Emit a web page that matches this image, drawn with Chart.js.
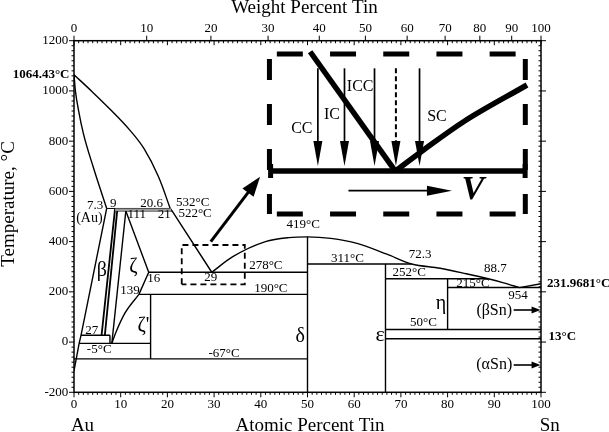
<!DOCTYPE html>
<html>
<head>
<meta charset="utf-8">
<title>Diagrama de fases Au-Sn</title>
<script src="https://cdn.jsdelivr.net/npm/chart.js@4.4.1/dist/chart.umd.min.js"></script>
<style>
    html, body { margin: 0; padding: 0; background: #fff; }
</style>
</head>
<body>
<canvas id="graficaAuSn" width="609" height="432"></canvas>
<script>
// Ejes
const ticksAtomico = [0, 10, 20, 30, 40, 50, 60, 70, 80, 90, 100];
const ticksPeso = [0, 10, 20, 30, 40, 50, 60, 70, 80, 90, 100];
const ticksTemperatura = [-200, 0, 200, 400, 600, 800, 1000, 1200];

// Curvas del diagrama (at.% Sn, °C)
const liquidusAu = [[0, 1064.43], [4, 995], [8, 922], [12, 843], [15, 770], [18, 662], [20.6, 532]];
const liquidusEutectico = [[20.6, 532], [21, 522], [29.5, 278]];
const liquidusSn = [[29.5, 278], [34, 340], [41, 400], [46, 416], [50, 419], [55, 413], [60.6, 393],
                    [67, 350], [72.3, 311], [78.4, 294], [84, 272], [88.7, 252], [92, 236], [95.4, 217]];
const liquidusSnFinal = [[95.4, 217], [100, 231.9681]];
const solidusAu = [[0, 1064.43], [0.3, 1000], [1.0, 920], [2.0, 831], [4.1, 698], [7.0, 532]];
const solvusAu = [[7.0, 532], [1.5, 27], [1.1, -5], [0, -115]];
const betaIzq = [[8.8, 532], [5.9, 27]];
const betaDer = [[9.3, 532], [6.6, 27]];
const zetaIzq = [[11.1, 522], [8.1, -5]];
const zetaDer = [[11.1, 522], [16, 278], [13.9, 190]];
const zetaPrima = [[8.1, -5], [9.0, 40], [10.9, 115], [13.9, 190]];

// Isotermas [x inicio, x fin, temperatura]
const isotermas = [
    [7.0, 20.6, 532], [9.3, 21, 522], [16, 50, 278], [13.9, 50, 190], [1.5, 7.7, 27],
    [1.1, 16.4, -5], [0, 50, -67], [50, 72.3, 311], [66.7, 88.7, 252], [80, 100, 217],
    [66.7, 100, 50], [66.7, 100, 13]
];
// Banda gris entre las peritecticas de 532 y 522 °C
const bandaPeritectica = [[8.8, 527], [20.8, 527]];
// Verticales [x, temperatura superior, temperatura inferior]
const verticales = [[7.7, 27, -5], [16.4, 190, -67], [50, 419, -200], [66.7, 311, -200], [80, 252, 50]];

// Esquema del recuadro
const recuadroX = [41.85, 96.64];
const recuadroT = [510, 1147];
const zonaX = [23.07, 36.57];
const zonaT = [230, 386.5];
const frente = [[42.1, 681], [96.6, 681]];
const ramaIzq = [[50.57, 1156], [68.8, 681]];
const ramaDer = [[68.8, 681], [74.85, 765], [83.42, 877.5], [97.0, 1023.6]];
const flechasX = [52.22, 57.92, 64.35, 68.93, 73.99];
const flechasT = [1090, 701];

const FUENTE = '"Liberation Serif", "Times New Roman", serif';
Chart.defaults.font.family = FUENTE;
Chart.defaults.color = '#000';

const pesoAAtomico = (w) => {
    const nSn = w / 118.71;
    const nAu = (100 - w) / 196.97;
    return 100 * nSn / (nSn + nAu);
};

const linea = (puntos, extra = {}) => Object.assign({
    data: puntos.map(([x, y]) => ({ x, y })),
    showLine: true,
    borderColor: '#000',
    borderWidth: 1.4,
    pointRadius: 0,
    fill: false,
    tension: 0
}, extra);

const curva = { cubicInterpolationMode: 'monotone' };
const suave = { tension: 0.4 };

const datasets = [
    linea(bandaPeritectica, { borderColor: '#9a9a9a', borderWidth: 2.6 }),
    linea(liquidusAu, suave),
    linea(liquidusEutectico),
    linea(liquidusSn, curva),
    linea(liquidusSnFinal),
    linea(solidusAu, curva),
    linea(solvusAu),
    linea(betaIzq, { borderWidth: 1.8 }),
    linea(betaDer, { borderWidth: 1.8 }),
    linea(zetaIzq),
    linea(zetaDer),
    linea(zetaPrima, curva)
];
isotermas.forEach(([a, b, t]) => {
    const fina = (t === 532 || t === 522);
    datasets.push(linea([[a, t], [b, t]], fina ? { borderWidth: 1 } : {}));
});
verticales.forEach(([x, t1, t2]) => datasets.push(linea([[x, t1], [x, t2]])));

// Recuadro discontinuo grande
const [rx1, rx2] = recuadroX;
const [rt1, rt2] = recuadroT;
datasets.push(linea([[rx1, rt2], [rx2, rt2]], { borderWidth: 5, borderDash: [26, 27.2], borderDashOffset: 45.8 }));
datasets.push(linea([[rx1, rt1], [rx2, rt1]], { borderWidth: 5, borderDash: [26, 27.2], borderDashOffset: 45.8 }));
datasets.push(linea([[rx1, rt2], [rx1, rt1]], { borderWidth: 5, borderDash: [21, 24], borderDashOffset: 40 }));
datasets.push(linea([[rx2, rt2], [rx2, rt1]], { borderWidth: 5, borderDash: [21, 24], borderDashOffset: 40 }));
// Recuadro de la zona eutectica
const [zx1, zx2] = zonaX;
const [zt1, zt2] = zonaT;
datasets.push(linea([[zx1, zt1], [zx1, zt2], [zx2, zt2], [zx2, zt1], [zx1, zt1]], { borderWidth: 1.8, borderDash: [6, 4] }));
// Frente y ramas gruesas
datasets.push(linea(frente, { borderWidth: 5.5 }));
datasets.push(linea([[frente[0][0], 653], [frente[0][0], 709]], { borderWidth: 5 }));
datasets.push(linea([[frente[1][0], 653], [frente[1][0], 709]], { borderWidth: 5 }));
datasets.push(linea(ramaIzq, { borderWidth: 5.5 }));
datasets.push(linea(ramaDer, Object.assign({ borderWidth: 5.5 }, curva)));

// Flechas [x1, y1, x2, y2, grosor, largo punta, ancho punta, guiones]
const flechas = [];
flechasX.forEach((x, i) => {
    flechas.push([x, flechasT[0], x, flechasT[1], i === 3 ? 2 : 1.7, 25, 9, i === 3 ? [5, 3] : null]);
});
flechas.push([58.77, 602.7, 80.93, 602.7, 1.8, 25, 10, null]);
flechas.push([29.29, 399.7, 39.85, 658.5, 3, 20, 14, null]);
flechas.push([94.15, 127.7, 99.9, 127.7, 1.6, 9, 7, null]);
flechas.push([94.15, -91.3, 99.9, -91.3, 1.6, 9, 7, null]);

// Etiquetas [texto, x, temperatura, tamaño, estilo]
const etiquetas = [
    ['7.3', 4.5, 544, 13], ['9', 8.42, 552, 13], ['20.6', 16.6, 552, 13], ['(Au)', 3.3, 491, 14],
    ['111', 13.43, 506, 13], ['21', 19.3, 506, 13], ['532°C', 25.43, 555, 13], ['522°C', 25.93, 512.7, 13],
    ['16', 17.1, 252, 13], ['139', 12.0, 206, 13], ['27', 3.79, 47, 13], ['-5°C', 5.4, -30, 13],
    ['29', 29.29, 256.3, 13], ['278°C', 41.08, 302.9, 13], ['190°C', 42.15, 214.1, 13],
    ['-67°C', 32.14, -44.7, 13], ['419°C', 49.07, 466.2, 13], ['311°C', 58.56, 333.6, 13],
    ['72.3', 74.14, 346.7, 13], ['252°C', 71.78, 276.2, 13], ['88.7', 90.21, 293.7, 13],
    ['215°C', 85.43, 234, 13], ['954', 95.07, 184.6, 13], ['50°C', 74.85, 77.1, 13],
    ['β', 5.94, 285, 20], ['ζ', 12.71, 298, 20], ["ζ'", 14.85, 64, 20], ['δ', 48.43, 21.4, 20],
    ['ε', 65.57, 27, 22], ['η', 78.58, 154, 20],
    ['CC', 48.79, 851.2, 16], ['IC', 55.22, 904.2, 16], ['ICC', 61.28, 1016.9, 16], ['SC', 77.72, 897.4, 16],
    ['(βSn)', 89.99, 124.5, 16], ['(αSn)', 89.99, -91.3, 16],
    ['V', 85.4, 605, 34, 'italic bold']
];

const dibujos = {
    id: 'dibujos',
    afterDraw(chart) {
        const ctx = chart.ctx;
        const xs = chart.scales.x;
        const ys = chart.scales.y;
        const { left, right, top, bottom } = chart.chartArea;
        const px = (v) => xs.getPixelForValue(v);
        const py = (v) => ys.getPixelForValue(v);
        const raya = (x1, y1, x2, y2) => {
            ctx.beginPath();
            ctx.moveTo(x1, y1);
            ctx.lineTo(x2, y2);
            ctx.stroke();
        };
        const texto = (t, x, y, fuente, align = 'center', base = 'middle') => {
            ctx.font = fuente;
            ctx.textAlign = align;
            ctx.textBaseline = base;
            ctx.fillText(t, x, y);
        };

        ctx.save();
        ctx.strokeStyle = '#000';
        ctx.fillStyle = '#000';

        // Marco
        ctx.lineWidth = 1.5;
        ctx.strokeRect(left, top, right - left, bottom - top);

        // Marcas de los ejes
        ctx.lineWidth = 1;
        for (let a = 0; a <= 100; a++) {
            const x = px(a);
            const mayor = a % 10 === 0;
            raya(x, bottom, x, bottom + (mayor ? 5 : 2.5));
            raya(x, top, x, top + (mayor ? 4.5 : 2.5));
        }
        ticksPeso.forEach((w) => {
            const x = px(pesoAAtomico(w));
            raya(x, top, x, top - 5);
        });
        for (let t = ticksTemperatura[0]; t <= ticksTemperatura[ticksTemperatura.length - 1]; t += 20) {
            const y = py(t);
            const mayor = t % 200 === 0;
            raya(left - (mayor ? 5 : 2.5), y, left, y);
            raya(right - 2.5, y, right, y);
            if (mayor) raya(right, y, right + 5, y);
        }

        // Flechas
        flechas.forEach(([x1, y1, x2, y2, grosor, largo, ancho, guiones]) => {
            const a1 = px(x1), b1 = py(y1), a2 = px(x2), b2 = py(y2);
            const ang = Math.atan2(b2 - b1, a2 - a1);
            const bx = a2 - Math.cos(ang) * largo * 0.7;
            const by = b2 - Math.sin(ang) * largo * 0.7;
            ctx.lineWidth = grosor;
            ctx.setLineDash(guiones || []);
            raya(a1, b1, bx, by);
            ctx.setLineDash([]);
            ctx.save();
            ctx.translate(a2, b2);
            ctx.rotate(ang);
            ctx.beginPath();
            ctx.moveTo(0, 0);
            ctx.lineTo(-largo, ancho / 2);
            ctx.lineTo(-largo, -ancho / 2);
            ctx.closePath();
            ctx.fill();
            ctx.restore();
        });

        // Etiquetas sobre el diagrama
        etiquetas.forEach(([t, x, y, tam, estilo]) => {
            texto(t, px(x), py(y), `${estilo ? estilo + ' ' : ''}${tam}px ${FUENTE}`);
        });

        // Temperaturas de fusion y transformacion
        texto('1064.43°C', left - 4.5, py(1064.43), `bold 13px ${FUENTE}`, 'right');
        texto('231.9681°C', right + 6, py(231.9681), `bold 13px ${FUENTE}`, 'left');
        texto('13°C', right + 7.5, py(21), `bold 13px ${FUENTE}`, 'left');

        // Titulos de los ejes
        const centro = (left + right) / 2;
        texto('Weight Percent Tin', centro - 3, 13.3, `19px ${FUENTE}`, 'center', 'alphabetic');
        texto('Atomic Percent Tin', centro + 2.5, bottom + 38.6, `19px ${FUENTE}`, 'center', 'alphabetic');
        texto('Au', px(0) + 8.5, bottom + 38.6, `19px ${FUENTE}`, 'center', 'alphabetic');
        texto('Sn', px(100) + 8.8, bottom + 38.6, `19px ${FUENTE}`, 'center', 'alphabetic');
        ctx.save();
        ctx.translate(13.5, py(550));
        ctx.rotate(-Math.PI / 2);
        texto('Temperature, °C', 0, 0, `19px ${FUENTE}`, 'center', 'alphabetic');
        ctx.restore();

        ctx.restore();
    }
};

const ejeSinRejilla = { display: false, drawTicks: false };

new Chart(document.getElementById('graficaAuSn'), {
    type: 'scatter',
    data: { datasets },
    options: {
        responsive: false,
        animation: false,
        events: [],
        layout: { padding: 0 },
        plugins: {
            legend: { display: false },
            tooltip: { enabled: false }
        },
        scales: {
            x: {
                type: 'linear',
                position: 'bottom',
                min: 0,
                max: 100,
                grid: ejeSinRejilla,
                border: { display: false },
                afterBuildTicks: (s) => { s.ticks = ticksAtomico.map((v) => ({ value: v })); },
                ticks: {
                    autoSkip: false,
                    maxRotation: 0,
                    padding: 4.5,
                    font: { size: 13 },
                    callback: (v, i) => String(ticksAtomico[i])
                },
                afterFit: (s) => { s.height = 39.7; }
            },
            x2: {
                type: 'linear',
                position: 'top',
                min: 0,
                max: 100,
                grid: ejeSinRejilla,
                border: { display: false },
                afterBuildTicks: (s) => { s.ticks = ticksPeso.map((w) => ({ value: pesoAAtomico(w) })); },
                ticks: {
                    autoSkip: false,
                    maxRotation: 0,
                    padding: 4,
                    font: { size: 13 },
                    callback: (v, i) => String(ticksPeso[i])
                },
                afterFit: (s) => { s.height = 40.7; }
            },
            y: {
                type: 'linear',
                position: 'left',
                min: -200,
                max: 1200,
                grid: ejeSinRejilla,
                border: { display: false },
                afterBuildTicks: (s) => { s.ticks = ticksTemperatura.map((v) => ({ value: v })); },
                ticks: {
                    padding: 5.7,
                    font: { size: 13 },
                    callback: (v, i) => String(ticksTemperatura[i])
                },
                afterFit: (s) => { s.width = 74; }
            },
            y2: {
                type: 'linear',
                position: 'right',
                min: -200,
                max: 1200,
                grid: ejeSinRejilla,
                border: { display: false },
                ticks: { display: false },
                afterFit: (s) => { s.width = 68; }
            }
        }
    },
    plugins: [dibujos]
});
</script>
</body>
</html>
